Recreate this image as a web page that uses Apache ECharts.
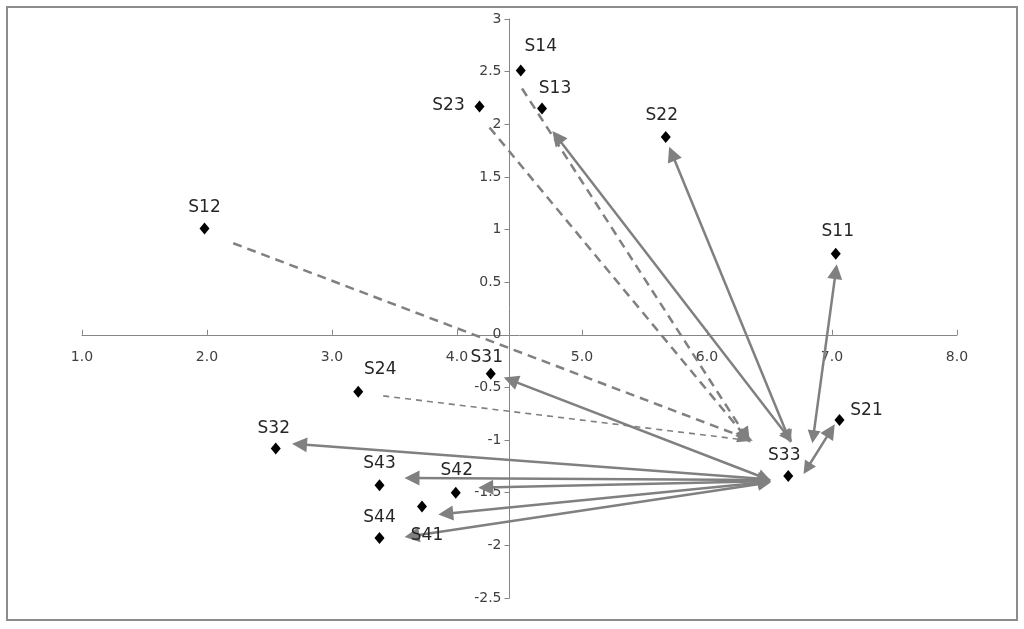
<!DOCTYPE html>
<html>
<head>
<meta charset="utf-8">
<script src="https://cdn.jsdelivr.net/npm/echarts@6/dist/echarts.min.js"></script>
<style>
    html, body { margin: 0; padding: 0; background: #fff; }
    #chart { width: 1024px; height: 629px; }
</style>
</head>
<body>
<div id="chart"></div>
<script>
// 点数据
var pointNames = ['S11', 'S12', 'S13', 'S14', 'S21', 'S22', 'S23', 'S24', 'S31', 'S32', 'S33', 'S41', 'S42', 'S43', 'S44'];
var pointX = [7.03, 1.98, 4.68, 4.51, 7.06, 5.67, 4.18, 3.21, 4.27, 2.55, 6.65, 3.72, 3.99, 3.38, 3.38];
var pointY = [0.77, 1.01, 2.15, 2.51, -0.81, 1.88, 2.17, -0.54, -0.37, -1.08, -1.34, -1.63, -1.50, -1.43, -1.93];

// 坐标轴
var xMin = 1, xMax = 8, xStep = 1;
var yMin = -2.5, yMax = 3, yStep = 0.5;
var yCrossAt = 4.42;   // 纵轴与横轴交点
var xCrossAt = 0;

// 实线双向箭头 [起点, 终点]
var solidArrows = [
    [[6.46, -1.36], [4.43, -0.43]],   // S33 - S31
    [[6.46, -1.37], [2.74, -1.04]],   // S33 - S32
    [[6.46, -1.38], [3.64, -1.36]],   // S33 - S43
    [[6.46, -1.39], [4.23, -1.45]],   // S33 - S42
    [[6.46, -1.40], [3.91, -1.70]],   // S33 - S41
    [[6.46, -1.41], [3.64, -1.91]],   // S33 - S44
    [[6.65, -0.97], [4.80, 1.88]],    // S13
    [[6.65, -0.97], [5.72, 1.72]],    // S22
    [[6.85, -0.97], [7.03, 0.60]],    // S11
    [[6.80, -1.27], [6.99, -0.91]]    // S21 - S33
];
// 虚线箭头
var dashedArrows = [
    [[4.52, 2.34], [6.31, -0.96]],    // S14
    [[4.26, 1.97], [6.31, -0.97]],    // S23
    [[2.21, 0.87], [6.31, -0.98]]     // S12
];
var thinDashedArrows = [
    [[3.41, -0.58], [6.31, -1.00]]    // S24
];

// 标签位置 (样式)
var labelOffset = {
    S11: [2, -22], S12: [0, -21], S13: [13, -20], S14: [20, -24],
    S21: [27, -10], S22: [-4, -21], S23: [-31, -1], S24: [22, -22],
    S31: [-4, -16], S32: [-2, -20], S33: [-4, -20], S41: [5, 29],
    S42: [1, -22], S43: [0, -22], S44: [0, -20]
};

var gridLeft = 82, gridRight = 67, gridTop = 19, gridBottom = 31;
var plotWidth = 1024 - gridLeft - gridRight;
var plotHeight = 629 - gridTop - gridBottom;
var yOffset = -(yCrossAt - xMin) / (xMax - xMin) * plotWidth;
var xOffset = -(xCrossAt - yMin) / (yMax - yMin) * plotHeight;

var lineColor = '#808080';
var fontFamily = '"DejaVu Sans", sans-serif';

function toLines(list) {
    return list.map(function (p) { return {coords: p}; });
}

var myChart = echarts.init(document.getElementById('chart'));

var option = {
    backgroundColor: '#fff',
    animation: false,
    graphic: [{
        type: 'rect',
        shape: {x: 7, y: 7, width: 1010, height: 613},
        style: {fill: null, stroke: '#8c8c8c', lineWidth: 2},
        z: -1
    }],
    grid: {left: gridLeft, right: gridRight, top: gridTop, bottom: gridBottom, outerBoundsMode: 'none'},
    xAxis: {
        type: 'value',
        position: 'bottom',
        offset: xOffset,
        min: xMin, max: xMax, interval: xStep,
        axisLine: {onZero: false, lineStyle: {color: '#868686', width: 1}},
        axisTick: {inside: true, length: 5, lineStyle: {color: '#868686'}},
        axisLabel: {
            margin: 16, fontSize: 14, color: '#404040', fontFamily: fontFamily,
            formatter: function (v) { return v.toFixed(1); }
        },
        splitLine: {show: false}
    },
    yAxis: {
        type: 'value',
        min: yMin, max: yMax, interval: yStep,
        offset: yOffset,
        axisLine: {show: true, onZero: false, lineStyle: {color: '#868686', width: 1}},
        axisTick: {show: true, length: 5, lineStyle: {color: '#868686'}},
        axisLabel: {margin: 8, fontSize: 14, color: '#404040', fontFamily: fontFamily},
        splitLine: {show: false}
    },
    series: [
        {
            type: 'lines',
            coordinateSystem: 'cartesian2d',
            symbol: ['triangle', 'triangle'],
            symbolSize: [13, 15],
            lineStyle: {color: lineColor, width: 2.5, opacity: 1, curveness: 0},
            data: toLines(solidArrows),
            z: 2
        },
        {
            type: 'lines',
            coordinateSystem: 'cartesian2d',
            symbol: ['none', 'triangle'],
            symbolSize: [13, 15],
            lineStyle: {color: lineColor, width: 2.5, opacity: 1, type: [9, 6]},
            data: toLines(dashedArrows),
            z: 2
        },
        {
            type: 'lines',
            coordinateSystem: 'cartesian2d',
            symbol: ['none', 'none'],
            lineStyle: {color: lineColor, width: 1.6, opacity: 1, type: [6, 5]},
            data: toLines(thinDashedArrows),
            z: 2
        },
        {
            type: 'scatter',
            symbol: 'diamond',
            symbolSize: [10, 12],
            itemStyle: {color: '#000', opacity: 1},
            label: {
                show: true,
                position: 'inside',
                formatter: '{b}',
                fontSize: 17,
                color: '#262626',
                fontFamily: fontFamily
            },
            emphasis: {disabled: true},
            data: pointNames.map(function (n, i) {
                return {name: n, value: [pointX[i], pointY[i]], label: {offset: labelOffset[n]}};
            }),
            z: 3
        }
    ]
};

myChart.setOption(option);
</script>
</body>
</html>
